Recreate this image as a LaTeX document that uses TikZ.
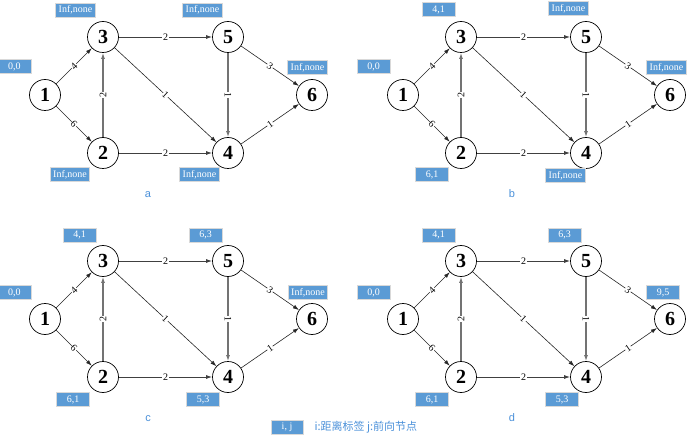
\documentclass[tikz,border=0pt]{standalone}
\usepackage{fontspec}
\setmainfont{Liberation Serif}
\setsansfont{Liberation Sans}
\newfontfamily\cjk{Noto Sans CJK SC}
\usetikzlibrary{positioning,arrows.meta}
\definecolor{tagblue}{RGB}{91,155,213}
\definecolor{capblue}{RGB}{74,144,217}
\tikzset{
  vnode/.style={circle,draw,line width=0.7pt,minimum size=31pt,inner sep=0pt,font=\fontsize{20}{20}\selectfont\bfseries},
  darc/.style={line width=0.6pt,draw=black!85,-{Latex[length=6pt,width=4pt]}},
  varc/.style={darc,line width=1.3pt,draw=black!55},
  harc/.style={darc,line width=0.9pt,draw=black!75},
  wlab/.style={font=\fontsize{10}{10}\selectfont,fill=white,inner sep=0.6pt,sloped},
  tag/.style={fill=tagblue,draw=black!15,line width=0.8pt,text=white,font=\fontsize{10}{10}\selectfont,minimum height=14pt,minimum width=33pt,inner xsep=3pt,inner ysep=0pt},
  captext/.style={text=capblue,font=\sffamily\fontsize{11}{11}\selectfont}
}
% one copy of the network, #1 = name prefix, (#2,#3) = shift
\newcommand{\netgraph}[3]{%
  \begin{scope}[shift={(#2,#3)}]
    \node[vnode] (#11) at (45,95) {1};
    \node[vnode] (#12) at (103,153) {2};
    \node[vnode] (#13) at (103,37) {3};
    \node[vnode] (#14) at (228,153) {4};
    \node[vnode] (#15) at (228,37) {5};
    \node[vnode] (#16) at (312,95) {6};
    \draw[darc] (#11) -- node[wlab] {4} (#13);
    \draw[darc] (#11) -- node[wlab] {6} (#12);
    \draw[varc] (#12) -- node[wlab] {2} (#13);
    \draw[harc] (#13) -- node[wlab] {2} (#15);
    \draw[darc] (#13) -- node[wlab] {1} (#14);
    \draw[varc] (#15) -- node[wlab] {1} (#14);
    \draw[darc] (#15) -- node[wlab] {3} (#16);
    \draw[harc] (#12) -- node[wlab] {2} (#14);
    \draw[darc] (#14) -- node[wlab] {1} (#16);
  \end{scope}}

\begin{document}
\begin{tikzpicture}[x=1pt,y=-1pt]
  \useasboundingbox (0,0) rectangle (692,443);

  % a
  \netgraph{a}{0}{0}
  \node[tag] (ta1) at ([shift={(-30.5,-28.5)}]a1) {0,0};
  \node[tag] (ta3) at ([shift={(-27.5,-27)}]a3) {Inf,none};
  \node[tag] (ta5) at ([shift={(-25.5,-27)}]a5) {Inf,none};
  \node[tag] (ta6) at ([shift={(-4.5,-27.5)}]a6) {Inf,none};
  \node[tag] (ta2) at ([shift={(-33,21.5)}]a2) {Inf,none};
  \node[tag] (ta4) at ([shift={(-28.5,21.5)}]a4) {Inf,none};
  \node[captext] (capa) at (148,195) {a};

  % b
  \netgraph{b}{358}{0}
  \node[tag] (tb1) at ([shift={(-29.5,-28.5)}]b1) {0,0};
  \node[tag] (tb3) at ([shift={(-22.5,-27.5)}]b3) {4,1};
  \node[tag] (tb5) at ([shift={(-17.5,-28.5)}]b5) {Inf,none};
  \node[tag] (tb6) at ([shift={(-3.5,-27.5)}]b6) {Inf,none};
  \node[tag] (tb2) at ([shift={(-29,21.5)}]b2) {6,1};
  \node[tag] (tb4) at ([shift={(-20.5,22.5)}]b4) {Inf,none};
  \node[captext] (capb) at (512,194) {b};

  % c
  \netgraph{c}{0}{224}
  \node[tag] (tc1) at ([shift={(-30.5,-26.5)}]c1) {0,0};
  \node[tag] (tc3) at ([shift={(-23.5,-26)}]c3) {4,1};
  \node[tag] (tc5) at ([shift={(-22.5,-26)}]c5) {6,3};
  \node[tag] (tc6) at ([shift={(-4,-26.5)}]c6) {Inf,none};
  \node[tag] (tc2) at ([shift={(-30,22.5)}]c2) {6,1};
  \node[tag] (tc4) at ([shift={(-25,22.5)}]c4) {5,3};
  \node[captext] (capc) at (148,419) {c};

  % d
  \netgraph{d}{358}{224}
  \node[tag] (td1) at ([shift={(-29.5,-26.5)}]d1) {0,0};
  \node[tag] (td3) at ([shift={(-22.5,-26)}]d3) {4,1};
  \node[tag] (td5) at ([shift={(-21.5,-26)}]d5) {6,3};
  \node[tag] (td6) at ([shift={(-7,-26.5)}]d6) {9,5};
  \node[tag] (td2) at ([shift={(-29,22.5)}]d2) {6,1};
  \node[tag] (td4) at ([shift={(-24,22.5)}]d4) {5,3};
  \node[captext] (capd) at (512,418) {d};

  % legend
  \node[tag,minimum width=32pt] (key) at (287,427) {i, j};
  \node[captext,anchor=west,font=\cjk\fontsize{11}{11}\selectfont] (keytext) at (311,427) {i:距离标签 j:前向节点};
\end{tikzpicture}
\end{document}
